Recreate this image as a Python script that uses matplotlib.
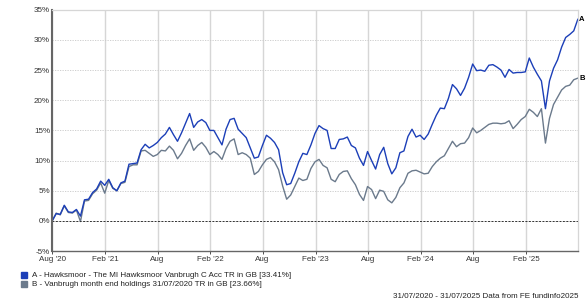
import numpy as np
import pandas as pd
import matplotlib
matplotlib.use("Agg")
import matplotlib.pyplot as plt
from matplotlib.ticker import FuncFormatter

plt.rcParams['font.family'] = ['Liberation Sans', 'DejaVu Sans']

# fortnightly cumulative total return (%)
dates = pd.date_range("2020-07-31", "2025-07-31", periods=131)

fund_a = [
    0.0, 1.2, 1.1, 2.6, 1.5, 1.4, 1.9, 0.8, 3.5, 3.6,
    4.7, 5.3, 6.6, 5.9, 6.9, 5.5, 5.0, 6.3, 6.6, 9.4,
    9.5, 9.6, 11.8, 12.7, 12.1, 12.5, 13.0, 13.8, 14.4, 15.5,
    14.3, 13.2, 14.6, 16.2, 17.8, 15.5, 16.4, 16.8, 16.3, 15.0,
    15.0, 13.8, 12.6, 15.2, 16.8, 17.0, 15.2, 14.5, 13.8, 12.1,
    10.4, 10.6, 12.5, 14.2, 13.7, 13.0, 11.8, 8.0, 6.0, 6.2,
    7.9, 9.8, 11.2, 11.0, 12.6, 14.5, 15.8, 15.3, 15.0, 12.0,
    12.0, 13.5, 13.6, 13.9, 12.5, 12.1, 10.4, 9.2, 11.5, 10.0,
    8.6, 11.0, 12.2, 9.5, 7.8, 8.8, 11.3, 11.6, 14.0, 15.2,
    13.9, 14.2, 13.5, 14.4, 16.0, 17.5, 18.7, 18.6, 20.3, 22.6,
    21.9, 20.8, 22.0, 23.8, 26.0, 24.9, 25.0, 24.8, 25.8, 25.9,
    25.5, 25.0, 23.8, 25.1, 24.5, 24.6, 24.6, 24.7, 27.0, 25.5,
    24.3, 23.2, 18.6, 23.2, 25.3, 26.7, 28.8, 30.4, 30.9, 31.5,
    33.41,
]

fund_b = [
    0.0, 1.3, 1.0, 2.5, 1.4, 1.3, 1.8, -0.1, 3.3, 3.4,
    4.5, 5.1, 6.3, 4.6, 6.7, 5.4, 5.0, 6.2, 6.4, 9.0,
    9.3, 9.3, 11.6, 11.7, 11.2, 10.7, 11.0, 11.7, 11.6, 12.4,
    11.7, 10.3, 11.2, 12.5, 13.6, 11.7, 12.5, 13.0, 12.2, 11.0,
    11.5, 11.0, 10.2, 12.0, 13.2, 13.6, 11.0, 11.3, 11.0, 10.4,
    7.7, 8.2, 9.3, 10.2, 10.5, 9.8, 8.5, 5.8, 3.6, 4.3,
    5.7, 7.1, 6.7, 6.9, 8.7, 9.8, 10.2, 9.2, 8.8, 6.9,
    6.5, 7.7, 8.2, 8.3, 7.0, 6.0, 4.4, 3.4, 5.7, 5.2,
    3.7, 5.1, 4.9, 3.5, 3.0, 3.9, 5.5, 6.3, 7.9, 8.3,
    8.4, 8.1, 7.8, 7.9, 9.0, 9.8, 10.4, 10.8, 12.0, 13.2,
    12.3, 12.8, 12.9, 13.8, 15.4, 14.6, 15.0, 15.5, 16.0, 16.2,
    16.2, 16.1, 16.2, 16.6, 15.3, 16.0, 16.8, 17.3, 18.5, 18.0,
    17.3, 18.6, 12.9, 17.0, 19.3, 20.5, 21.7, 22.3, 22.5, 23.4,
    23.66,
]

legend_labels = [
    "A - Hawksmoor - The MI Hawksmoor Vanbrugh C Acc TR in GB [33.41%]",
    "B - Vanbrugh month end holdings 31/07/2020 TR in GB [23.66%]",
]
end_tags = ["A", "B"]
colors = ["#1c3fb8", "#6b7a8c"]

fig = plt.figure(figsize=(5.86, 3.04), dpi=100)
ax = fig.add_axes([0.089, 0.174, 0.897, 0.794])

for vals, c in zip([fund_a, fund_b][::-1], colors[::-1]):
    ax.plot(dates, vals, color=c, lw=1.0)

ax.set_ylim(-5, 35)
ax.set_yticks(np.arange(-5, 36, 5))
ax.yaxis.set_major_formatter(FuncFormatter(lambda v, p: f"{v:.0f}%"))
ax.set_xlim(pd.Timestamp("2020-07-31"), pd.Timestamp("2025-07-31"))

ticks = pd.to_datetime(["2020-08-01", "2021-02-01", "2021-08-01", "2022-02-01",
                        "2022-08-01", "2023-02-01", "2023-08-01", "2024-02-01",
                        "2024-08-01", "2025-02-01"])
tick_labels = ["Aug '20", "Feb '21", "Aug", "Feb '22", "Aug", "Feb '23",
               "Aug", "Feb '24", "Aug", "Feb '25"]
ax.set_xticks(ticks)
ax.set_xticklabels(tick_labels)

ax.tick_params(axis="both", labelsize=5.8, colors="#333333", length=2, width=0.6, pad=1.5)
ax.tick_params(axis="y", length=0)

# grid: dotted horizontals, solid verticals, dashed zero line
ax.grid(axis="y", color="#c8c8c8", lw=0.6, ls=(0, (1.5, 1.5)))
ax.grid(axis="x", color="#d6d6d6", lw=1.0, ls="-")
ax.axhline(0, color="#333333", lw=0.7, ls=(0, (2, 1.5)))
ax.set_axisbelow(True)

for side in ["top", "right"]:
    ax.spines[side].set_color("#d6d6d6")
    ax.spines[side].set_linewidth(0.9)
ax.spines["left"].set_color("#666666")
ax.spines["left"].set_linewidth(1.5)
ax.spines["bottom"].set_color("#666666")
ax.spines["bottom"].set_linewidth(1.0)

for vals, tag in zip([fund_a, fund_b], end_tags):
    ax.annotate(tag, (dates[-1], vals[-1]), xytext=(1, 0), textcoords="offset points",
                fontsize=5.5, fontweight="bold", va="center", ha="left", annotation_clip=False)

# legend
for i, (lab, c) in enumerate(zip(legend_labels, colors)):
    y = 0.095 - i * 0.03
    fig.patches.append(plt.Rectangle((0.036, y - 0.009), 0.0095, 0.019,
                                     transform=fig.transFigure, color=c))
    fig.text(0.054, y, lab, fontsize=5.8, va="center", ha="left", color="#222222")

fig.text(0.988, 0.012, "31/07/2020 - 31/07/2025 Data from FE fundinfo2025",
         fontsize=5.8, ha="right", va="bottom", color="#222222")

fig.savefig("out.png", dpi=100)
